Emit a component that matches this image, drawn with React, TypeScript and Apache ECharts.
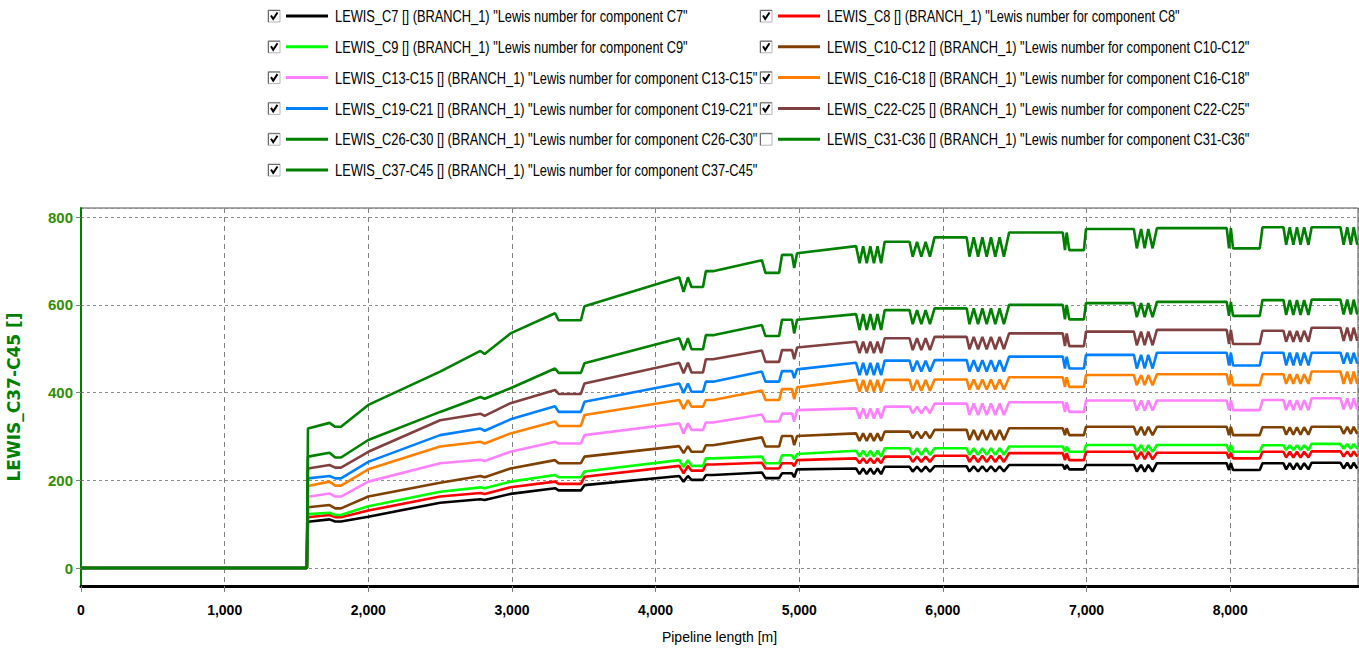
import React, { useEffect, useRef } from "react";
import * as echarts from "echarts";

// ---------- data ----------
const SERIES_NAMES = [
  'LEWIS_C7 [] (BRANCH_1) "Lewis number for component C7"',
  'LEWIS_C8 [] (BRANCH_1) "Lewis number for component C8"',
  'LEWIS_C9 [] (BRANCH_1) "Lewis number for component C9"',
  'LEWIS_C10-C12 [] (BRANCH_1) "Lewis number for component C10-C12"',
  'LEWIS_C13-C15 [] (BRANCH_1) "Lewis number for component C13-C15"',
  'LEWIS_C16-C18 [] (BRANCH_1) "Lewis number for component C16-C18"',
  'LEWIS_C19-C21 [] (BRANCH_1) "Lewis number for component C19-C21"',
  'LEWIS_C22-C25 [] (BRANCH_1) "Lewis number for component C22-C25"',
  'LEWIS_C26-C30 [] (BRANCH_1) "Lewis number for component C26-C30"',
  'LEWIS_C31-C36 [] (BRANCH_1) "Lewis number for component C31-C36"',
  'LEWIS_C37-C45 [] (BRANCH_1) "Lewis number for component C37-C45"',
];

// pipeline positions (m) of the profile's knots
const PROFILE_X = [
  0, 1572, 1580, 1730, 1770, 1810, 2000, 2500, 2780, 2810,
  2990, 3300, 3325, 3480, 3505, 4165, 4195, 4225, 4250, 4330,
  4350, 4400, 4740, 4765, 4860, 4880, 4950, 4965, 4985, 5396,
  5420, 5445, 5470, 5495, 5520, 5545, 5570, 5595, 5768,
  5790, 5820, 5850, 5880, 5910, 5942, 6166,
  6185, 6215, 6245, 6275, 6305, 6335, 6365, 6395, 6425, 6461, 6835,
  6850, 6862, 6880, 6982, 6996, 7330,
  7350, 7380, 7405, 7430, 7460, 7490, 7976,
  7992, 8005, 8020, 8206, 8225, 8371,
  8390, 8415, 8440, 8465, 8490, 8515, 8545, 8567, 8768,
  8790, 8815, 8840, 8860, 8885,
];
// which read level each knot takes
const PROFILE_STATE = [
  0, 0, 1, 2, 3, 3, 4, 5, 6, 7,
  8, 9, 10, 10, 11, 12, 13, 12, 14, 14,
  15, 15, 16, 17, 17, 18, 18, 19, 20, 21,
  22, 21, 22, 21, 22, 21, 22, 23, 23,
  24, 23, 24, 23, 24, 25, 25,
  26, 25, 26, 25, 26, 25, 26, 25, 26, 27, 27,
  28, 27, 28, 28, 29, 29,
  30, 29, 30, 29, 30, 31, 31,
  32, 31, 32, 32, 33, 33,
  34, 33, 34, 33, 34, 33, 34, 35, 35,
  36, 35, 36, 35, 36,
];

// levels, one per state
const LEVELS_C7 = [0, 105.6, 111, 106, 117, 149, 157, 155, 169, 182, 177, 189, 210, 197, 201, 212, 218, 205, 216, 207, 225, 227, 214, 231, 220, 232, 220, 235, 225, 235, 220, 239, 223.5, 239, 225, 240, 227];
const LEVELS_C8 = [0, 115.6, 121, 116, 131, 163, 171, 169, 184, 197, 192, 208, 233, 216, 222, 236, 240, 227, 239, 232, 246, 250, 239, 254, 242, 256, 242, 262, 246, 265, 248, 263, 250, 265, 252, 266, 254];
const LEVELS_C9 = [0, 123, 126, 121, 141, 174, 184, 182, 197, 212, 207, 220, 246, 230, 233, 250, 254, 239, 257, 248, 260, 267.5, 254, 273, 258, 273, 258, 277, 265, 280.5, 265, 280.5, 265, 280, 269, 283, 272];
const LEVELS_C10_C12 = [0, 138.4, 143.7, 136, 163, 194.5, 210, 207, 227, 246, 239, 254, 278, 262, 265, 280, 298, 277, 301, 280, 301, 307, 290, 311, 296, 315, 292, 318.6, 303, 322, 303, 322, 303, 321, 304, 322, 306];
const LEVELS_C13_C15 = [0, 162.6, 170, 163, 197, 239, 247, 244, 265, 288, 284, 303, 330, 307, 315, 332, 350, 334, 352, 334, 360, 364, 341, 368, 353, 375, 349, 378, 356, 382, 359, 382, 360, 383, 360, 387, 362];
const LEVELS_C16_C18 = [0, 187, 197, 188, 225, 277, 288, 284, 307, 334, 324, 349, 383, 363, 368, 383, 405, 383, 408, 385, 412, 429, 402, 429, 404, 430, 407, 435, 413, 440, 417, 442, 417, 442, 420, 448, 420];
const LEVELS_C19_C21 = [0, 204.5, 210, 204.5, 242, 303, 318, 313, 339, 369, 356, 379, 421, 399, 402, 425, 448, 425, 449, 433, 453, 468, 440, 473, 448, 474, 448, 482, 455, 486, 455, 491, 462, 491, 462, 491, 466];
const LEVELS_C22_C25 = [0, 227, 235, 229, 265, 337, 352, 347, 376, 406, 397, 421, 468, 444, 446, 476, 496, 470, 497, 476, 503, 516, 490, 524, 497, 527, 499, 535, 506, 539, 508, 543, 511, 541, 516, 548, 518];
const LEVELS_C26_C30 = [0, 254, 263, 252, 292, 356, 390, 386, 410, 455, 445, 467, 524, 497, 499, 531, 554, 529, 566, 535, 566, 579, 543, 588, 556, 592, 556, 600, 567, 604, 572, 607, 575, 611, 577, 612, 578];
const LEVELS_C37_C45 = [0, 318, 331, 322, 372, 448, 495, 488, 535, 581, 565, 597, 663, 630, 641, 677, 702, 673, 714, 684, 718, 734, 695, 744, 710, 754, 710, 765, 725, 773, 729, 775, 729, 777, 737, 777, 737];

const SERIES_LEVELS: (number[] | null)[] = [
  LEVELS_C7, LEVELS_C8, LEVELS_C9, LEVELS_C10_C12, LEVELS_C13_C15, LEVELS_C16_C18,
  LEVELS_C19_C21, LEVELS_C22_C25, LEVELS_C26_C30, null, LEVELS_C37_C45,
];
const SERIES_CHECKED = [true, true, true, true, true, true, true, true, true, false, true];

const LEGEND_LEFT = [0, 2, 4, 6, 8, 10];
const LEGEND_RIGHT = [1, 3, 5, 7, 9];

// ---------- styles ----------
const COLORS = [
  "#000000", "#ff0000", "#00ff00", "#804000", "#ff80ff", "#ff8000",
  "#0080ff", "#804040", "#008000", "#008000", "#008000",
];
const SANS = "'Liberation Sans', Arial, sans-serif";

const ROW_FIRST = 16;
const ROW_STEP = 30.8;

function checkbox(x: number, yc: number, checked: boolean) {
  const children: any[] = [
    { type: "rect", shape: { x: 0, y: 0, width: 12, height: 12 }, style: { fill: "#fff", stroke: "#b4b4b4", lineWidth: 1 } },
    { type: "polyline", shape: { points: [[0.5, 12], [0.5, 0.5], [12, 0.5]] }, style: { stroke: "#6a6a6a", lineWidth: 1, fill: null } },
  ];
  if (checked) {
    children.push({
      type: "polyline",
      shape: { points: [[3, 5.5], [5.2, 9], [9.5, 2.5]] },
      style: { stroke: "#000", lineWidth: 2, fill: null },
    });
  }
  return { type: "group", x, y: yc - 6, children, silent: true };
}

function legendRow(s: number, colX: number, yc: number) {
  return {
    type: "group",
    silent: true,
    children: [
      checkbox(colX, yc, SERIES_CHECKED[s]),
      {
        type: "line",
        shape: { x1: colX + 18, y1: yc, x2: colX + 60, y2: yc },
        style: { stroke: COLORS[s], lineWidth: 3 },
      },
      {
        type: "text",
        x: colX + 67,
        y: yc,
        scaleX: 0.755,
        style: {
          text: SERIES_NAMES[s],
          fontFamily: SANS,
          fontSize: 17,
          fill: "#000",
          verticalAlign: "middle",
          align: "left",
        },
      },
    ],
  };
}

export default function App() {
  const ref = useRef<HTMLDivElement>(null);
  useEffect(() => {
    if (!ref.current) return;
    const chart = echarts.init(ref.current, undefined, { renderer: "svg" });

    const series = SERIES_NAMES.map((name, s) => {
      const lv = SERIES_LEVELS[s];
      return {
        name,
        type: "line",
        showSymbol: false,
        symbol: "none",
        color: COLORS[s],
        lineStyle: { width: 2.6, color: COLORS[s] },
        data: lv ? PROFILE_X.map((x, i) => [x, lv[PROFILE_STATE[i]]]) : [],
      };
    });

    const graphics: any[] = [];
    LEGEND_LEFT.forEach((s, r) => graphics.push(legendRow(s, 268, ROW_FIRST + r * ROW_STEP)));
    LEGEND_RIGHT.forEach((s, r) => graphics.push(legendRow(s, 760, ROW_FIRST + r * ROW_STEP)));

    chart.setOption({
      animation: false,
      backgroundColor: "#fff",
      graphic: graphics,
      grid: {
        left: 81, right: 1, top: 208, bottom: 70,
        outerBoundsMode: "none",
        containLabel: false,
        show: true, borderColor: "#505050", borderWidth: 1, backgroundColor: "transparent",
      },
      xAxis: {
        type: "value",
        min: 0,
        max: 8890,
        splitNumber: 9,
        name: "Pipeline length [m]",
        nameLocation: "middle",
        nameGap: 44,
        nameTextStyle: { fontFamily: SANS, fontSize: 14, color: "#000" },
        axisLine: { onZero: false, lineStyle: { color: "#000", width: 3 } },
        axisTick: { show: true, length: 6, lineStyle: { color: "#808080" } },
        axisLabel: {
          showMaxLabel: false,
          margin: 17,
          fontFamily: SANS,
          fontWeight: "bold",
          fontSize: 14,
          color: "#000",
          formatter: (v: number) => v.toLocaleString("en-US"),
        },
        splitLine: { show: true, lineStyle: { color: "#808080", type: [5, 4], width: 1 } },
      },
      yAxis: {
        type: "value",
        min: -41,
        max: 821,
        splitNumber: 4,
        name: "LEWIS_C37-C45 []",
        nameLocation: "middle",
        nameGap: 59,
        nameRotate: 90,
        nameTextStyle: { fontFamily: "'DejaVu Sans', sans-serif", fontWeight: "bold", fontSize: 17, color: "#008000" },
        axisLine: { show: true, lineStyle: { color: "#008000", width: 2 } },
        axisTick: { show: true, length: 5, lineStyle: { color: "#808080" } },
        axisLabel: {
          showMinLabel: false,
          showMaxLabel: false,
          margin: 8,
          fontFamily: SANS,
          fontWeight: "bold",
          fontSize: 15,
          color: "#2f8f00",
        },
        splitLine: { show: true, lineStyle: { color: "#8c8c8c", type: [3, 3], width: 1.2 } },
      },
      series,
    });
    return () => chart.dispose();
  }, []);
  return <div ref={ref} style={{ position: "fixed", left: 0, top: 0, width: 1359, height: 656 }} />;
}
